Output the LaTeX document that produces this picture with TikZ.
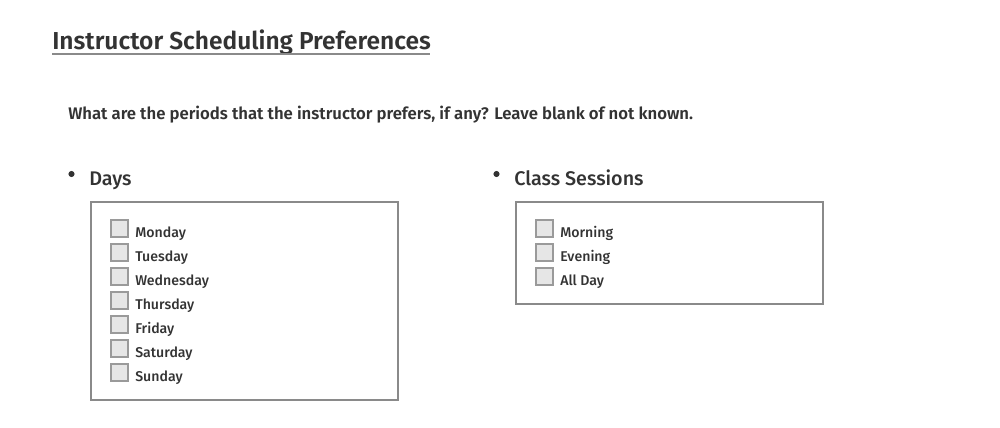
\documentclass[tikz,border=0pt]{standalone}
\usepackage{fontspec}
\setmainfont{Fira Sans}
\newfontfamily\fmed{Fira Sans Medium}
\newfontfamily\fsemi{Fira Sans SemiBold}
\definecolor{txt}{HTML}{333333}
\definecolor{framec}{HTML}{8A8A8A}
\definecolor{chkfill}{HTML}{E6E6E6}
\definecolor{chkdraw}{HTML}{9A9A9A}
\tikzset{
  titletxt/.style={anchor=base west, inner sep=0pt, text=txt, font=\fsemi\fontsize{18.4}{22}\selectfont},
  questxt/.style={anchor=base west, inner sep=0pt, text=txt, font=\fsemi\fontsize{12.55}{15}\selectfont},
  headtxt/.style={anchor=base west, inner sep=0pt, text=txt, font=\fmed\fontsize{14.8}{18}\selectfont},
  lbl/.style={anchor=base west, inner sep=0pt, text=txt, font=\fmed\fontsize{10.6}{13}\selectfont},
  chk/.style={draw=chkdraw, fill=chkfill, line width=1.5pt, minimum size=12.5pt, inner sep=0pt},
  frame/.style={draw=framec, line width=1.5pt},
  bul/.style={circle, fill=txt, inner sep=0pt, minimum size=4.6pt}
}
\begin{document}
\begin{tikzpicture}[x=0.75pt,y=-0.75pt]
\useasboundingbox (0,0) rectangle (1000,428);
\node[titletxt] (title) at (52,50) {Instructor Scheduling Preferences};
\draw[draw=framec, line width=1.5pt] (52,54.5) -- (430,54.5);
\node[questxt] (q) at (68,119) {What are the periods that the instructor prefers, if any? Leave blank of not known.};
% Days
\node[bul] (b1) at (71.5,174) {};
\node[headtxt] (days) at (89,185) {Days};
\draw[frame] (91,202) rectangle (398,400);
\foreach \i/\d in {0/Monday,1/Tuesday,2/Wednesday,3/Thursday,4/Friday,5/Saturday,6/Sunday}{
  \node[chk] (cd\i) at (119.5,{228.5+24*\i}) {};
  \node[lbl] (ld\i) at (135,{237+24*\i}) {\d};
}
% Class sessions
\node[bul] (b2) at (496.5,174) {};
\node[headtxt] (cls) at (514,185) {Class Sessions};
\draw[frame] (516,202) rectangle (823,304);
\foreach \i/\d in {0/Morning,1/Evening,2/All Day}{
  \node[chk] (cc\i) at (544.5,{228.5+24*\i}) {};
  \node[lbl] (lc\i) at (560,{237+24*\i}) {\d};
}
\end{tikzpicture}
\end{document}
